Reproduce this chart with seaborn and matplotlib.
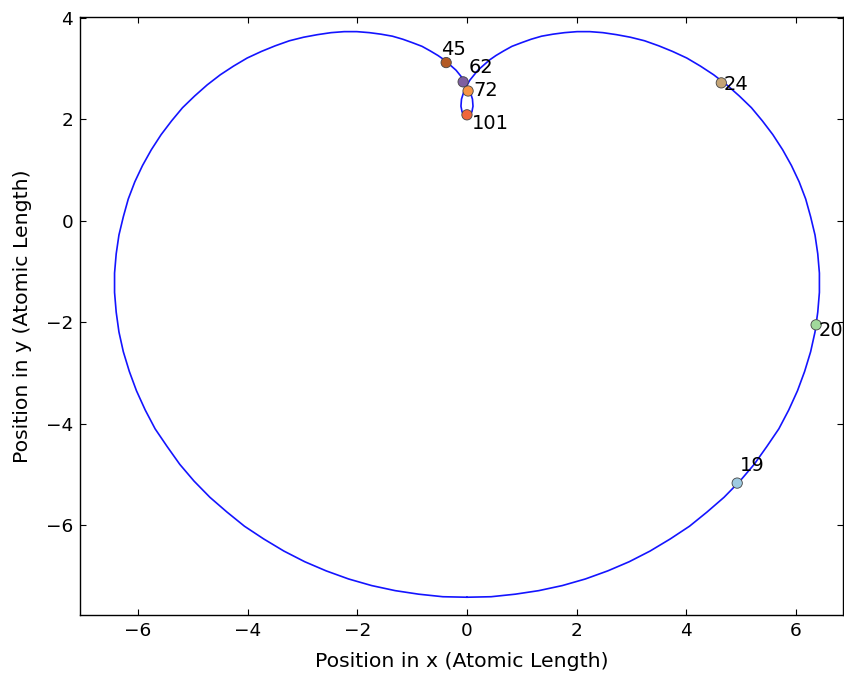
import matplotlib
matplotlib.use("Agg")
import matplotlib.pyplot as plt
import seaborn as sns
import pandas as pd

# Orbit trajectory (x, y) in atomic length units
orbit_x = [0.0, 0.44, 0.88, 1.31, 1.74, 2.16, 2.57, 2.96, 3.34, 3.71,
           4.06, 4.38, 4.69, 4.98, 5.24, 5.47, 5.69, 5.87, 6.03, 6.16,
           6.27, 6.35, 6.40, 6.43, 6.43, 6.40, 6.35, 6.27, 6.18, 6.06,
           5.92, 5.76, 5.58, 5.39, 5.19, 4.97, 4.74, 4.50, 4.26, 4.01,
           3.75, 3.50, 3.24, 2.98, 2.73, 2.48, 2.24, 2.01, 1.78, 1.57,
           1.36, 1.17, 0.99, 0.82, 0.67, 0.53, 0.41, 0.20, 0.05, -0.05,
           -0.10, -0.11, -0.09, -0.05, 0.0,
           0.05, 0.09, 0.11, 0.10, 0.05, -0.05, -0.20, -0.41, -0.53, -0.67,
           -0.82, -0.99, -1.17, -1.36, -1.57, -1.78, -2.01, -2.24, -2.48, -2.73,
           -2.98, -3.24, -3.50, -3.75, -4.01, -4.26, -4.50, -4.74, -4.97, -5.19,
           -5.39, -5.58, -5.76, -5.92, -6.06, -6.18, -6.27, -6.35, -6.40, -6.43,
           -6.43, -6.40, -6.35, -6.27, -6.16, -6.03, -5.87, -5.69, -5.47, -5.24,
           -4.98, -4.69, -4.38, -4.06, -3.71, -3.34, -2.96, -2.57, -2.16, -1.74,
           -1.31, -0.88, -0.44, 0.0]
orbit_y = [-7.42, -7.41, -7.36, -7.29, -7.19, -7.06, -6.90, -6.72, -6.51, -6.27,
           -6.02, -5.74, -5.45, -5.13, -4.80, -4.45, -4.10, -3.73, -3.35, -2.97,
           -2.58, -2.19, -1.80, -1.41, -1.03, -0.65, -0.28, 0.08, 0.43, 0.77,
           1.09, 1.40, 1.70, 1.97, 2.23, 2.46, 2.68, 2.88, 3.05, 3.21,
           3.34, 3.45, 3.55, 3.62, 3.67, 3.71, 3.73, 3.73, 3.71, 3.68,
           3.64, 3.58, 3.51, 3.44, 3.35, 3.26, 3.17, 2.97, 2.77, 2.57,
           2.40, 2.26, 2.15, 2.08, 2.06,
           2.08, 2.15, 2.26, 2.40, 2.57, 2.77, 2.97, 3.17, 3.26, 3.35,
           3.44, 3.51, 3.58, 3.64, 3.68, 3.71, 3.73, 3.73, 3.71, 3.67,
           3.62, 3.55, 3.45, 3.34, 3.21, 3.05, 2.88, 2.68, 2.46, 2.23,
           1.97, 1.70, 1.40, 1.09, 0.77, 0.43, 0.08, -0.28, -0.65, -1.03,
           -1.41, -1.80, -2.19, -2.58, -2.97, -3.35, -3.73, -4.10, -4.45, -4.80,
           -5.13, -5.45, -5.74, -6.02, -6.27, -6.51, -6.72, -6.90, -7.06, -7.19,
           -7.29, -7.36, -7.41, -7.42]

# Marked time steps along the orbit
step_labels = ["19", "20", "24", "45", "62", "72", "101"]
step_x = [4.93, 6.37, 4.64, -0.38, -0.07, 0.02, 0.00]
step_y = [-5.17, -2.05, 2.72, 3.12, 2.74, 2.56, 2.09]
step_colors = ["#9ecae1", "#a1d99b", "#c4a476", "#b35a24", "#7e5fa0", "#f59445", "#f0653a"]

# Label offsets in points (dx, dy) for each step annotation
label_offsets = [(2, 13), (1.5, -4), (2, -1.5), (-3.6, 9.4), (3.6, 10), (3.6, 0), (3.6, -6.5)]

sns.set_style("ticks")
plt.rcParams.update({
    "font.family": ["DejaVu Sans"],
    "xtick.direction": "in",
    "ytick.direction": "in",
    "xtick.top": True,
    "ytick.right": True,
    "xtick.major.size": 4,
    "ytick.major.size": 4,
    "axes.edgecolor": "black",
    "axes.linewidth": 1.0,
    "axes.labelcolor": "black",
    "text.color": "black",
    "xtick.color": "black",
    "ytick.color": "black",
})

fig = plt.figure(figsize=(8.45, 6.77), dpi=100)
ax = fig.add_axes([0.0947, 0.0916, 0.9029, 0.8834])

orbit = pd.DataFrame({"x": orbit_x, "y": orbit_y})
sns.lineplot(data=orbit, x="x", y="y", sort=False, estimator=None,
             color="#1414ff", linewidth=1.2, ax=ax)

steps = pd.DataFrame({"x": step_x, "y": step_y, "step": step_labels})
sns.scatterplot(data=steps, x="x", y="y", hue="step", palette=step_colors,
                s=55, edgecolor="#444444", linewidth=0.6, legend=False,
                zorder=3, ax=ax)

for lab, x, y, (dx, dy) in zip(step_labels, step_x, step_y, label_offsets):
    ax.annotate(lab, (x, y), xytext=(dx, dy), textcoords="offset points",
                fontsize=14, ha="left", va="center", color="black")

ax.set_xlim(-7.06, 6.86)
ax.set_ylim(-7.77, 4.02)
ax.set_xticks([-6, -4, -2, 0, 2, 4, 6])
ax.set_yticks([-6, -4, -2, 0, 2, 4])
ax.tick_params(labelsize=13.3, pad=5)
ax.set_xlabel("Position in x (Atomic Length)", fontsize=14.7, labelpad=9)
ax.set_ylabel("Position in y (Atomic Length)", fontsize=14.7, labelpad=10)

fig.savefig("out.png", dpi=100)
